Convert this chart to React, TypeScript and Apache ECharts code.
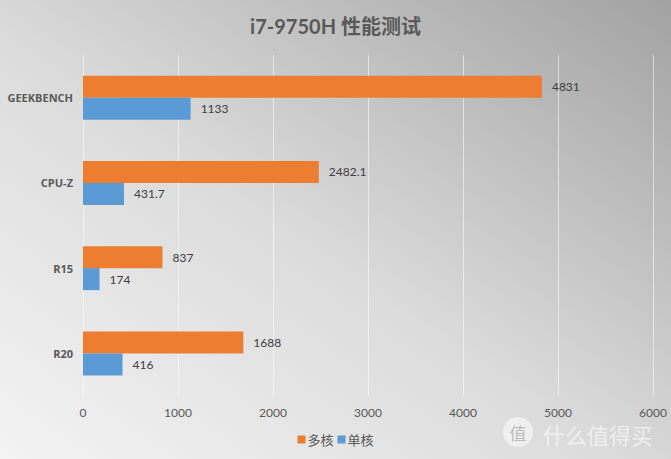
import React, { useEffect, useRef } from "react";
import * as echarts from "echarts";

const categories = ["GEEKBENCH", "CPU-Z", "R15", "R20"];
const multiCore = [4831, 2482.1, 837, 1688];
const singleCore = [1133, 431.7, 174, 416];
const seriesNames = ["多核", "单核"];
const titleText = "i7-9750H 性能测试";

const FONT = "Lato, Noto Sans CJK SC, sans-serif";

export default function App() {
  const ref = useRef<HTMLDivElement>(null);
  useEffect(() => {
    const chart = echarts.init(ref.current!, null, { renderer: "svg" });
    const labelStyle = {
      show: true,
      position: "right" as const,
      distance: 10,
      color: "#404040",
      fontSize: 12,
      fontFamily: FONT,
    };
    chart.setOption({
      animation: false,
      backgroundColor: "transparent",
      title: {
        text: titleText,
        left: "center",
        top: 11,
        textStyle: {
          fontSize: 20,
          fontWeight: "bold",
          color: "#595959",
          fontFamily: FONT,
        },
      },
      legend: {
        bottom: 8,
        left: "center",
        icon: "rect",
        itemWidth: 8,
        itemHeight: 8,
        itemGap: 4,
        textStyle: { color: "#595959", fontSize: 13, fontFamily: "Noto Sans CJK SC, sans-serif", padding: [0, 0, 0, -3] },
        data: seriesNames,
      },
      grid: { left: 83, right: 18, top: 55, bottom: 63, containLabel: false, outerBoundsMode: "none" },
      xAxis: {
        type: "value",
        min: 0,
        max: 6000,
        interval: 1000,
        axisLine: { show: false },
        axisTick: { show: false },
        axisLabel: {
          color: "#595959",
          fontSize: 12,
          margin: 10,
          fontFamily: FONT,
          formatter: (v: number) => String(v),
        },
        splitLine: { lineStyle: { color: "rgba(255,255,255,0.55)", width: 1 } },
      },
      yAxis: {
        type: "category",
        data: categories,
        inverse: true,
        axisLine: { show: false },
        axisTick: { show: false },
        axisLabel: {
          color: "#595959",
          fontSize: 11,
          fontWeight: "bold",
          margin: 10,
          fontFamily: "Open Sans, sans-serif",
        },
      },
      series: [
        {
          name: seriesNames[0],
          type: "bar",
          data: multiCore,
          barWidth: 22,
          barGap: "0%",
          itemStyle: { color: "#ED7D31" },
          label: labelStyle,
        },
        {
          name: seriesNames[1],
          type: "bar",
          data: singleCore,
          barWidth: 22,
          barGap: "0%",
          itemStyle: { color: "#5B9BD5" },
          label: labelStyle,
        },
      ],
      graphic: [
        {
          type: "circle",
          shape: { cx: 518, cy: 432, r: 15 },
          style: { fill: "rgba(255,255,255,0.55)" },
        },
        {
          type: "text",
          x: 518,
          y: 432,
          style: {
            text: "值",
            fill: "rgba(150,150,150,0.6)",
            fontSize: 17,
            fontFamily: "Noto Sans CJK SC, sans-serif",
            align: "center",
            verticalAlign: "middle",
          },
        },
        {
          type: "text",
          x: 543,
          y: 434,
          style: {
            text: "什么值得买",
            fill: "rgba(255,255,255,0.6)",
            fontSize: 22,
            fontFamily: "Noto Sans CJK SC, sans-serif",
            verticalAlign: "middle",
          },
        },
      ],
    });
    return () => chart.dispose();
  }, []);
  return (
    <div
      ref={ref}
      style={{
        position: "absolute",
        left: 0,
        top: 0,
        width: 671,
        height: 459,
        background: "linear-gradient(to top right, #f3f3f3 0%, #dcdcdc 45%, #a2a2a2 100%)",
      }}
    />
  );
}
